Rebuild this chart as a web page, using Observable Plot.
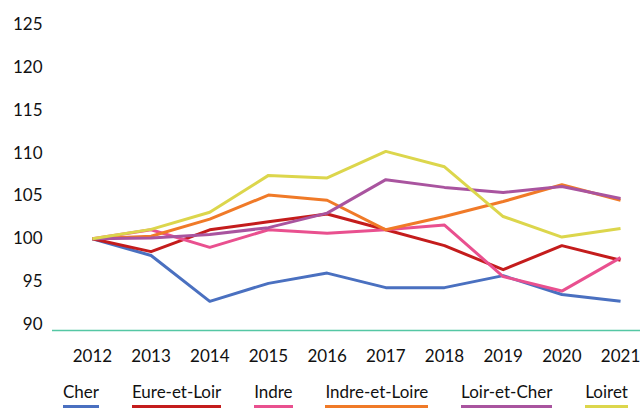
<!DOCTYPE html>
<html>
<head>
<meta charset="utf-8">
<script src="https://cdn.jsdelivr.net/npm/d3@7"></script>
<script src="https://cdn.jsdelivr.net/npm/@observablehq/plot@0.6"></script>
<style>
  html, body { margin: 0; padding: 0; background: #fff; }
  body { width: 640px; height: 408px; overflow: hidden; font-family: Lato, "Open Sans", sans-serif; }
  #legend { display: flex; justify-content: space-between; padding: 0 12px 0 63px; height: 38px; box-sizing: border-box; }
  .item { font-size: 17px; color: #111; line-height: 20px; padding-top: 12px; padding-bottom: 3px; border-bottom: 3px solid; height: 20px; }
</style>
</head>
<body>
<div id="chart"></div>
<div id="legend"></div>
<script>
const years = [2012, 2013, 2014, 2015, 2016, 2017, 2018, 2019, 2020, 2021];
const seriesNames = ["Cher", "Eure-et-Loir", "Indre", "Indre-et-Loire", "Loir-et-Cher", "Loiret"];
const cher         = [100, 98.05, 92.7, 94.8, 96.0, 94.3, 94.3, 95.7, 93.5, 92.7];
const eureEtLoir   = [100, 98.5, 101.05, 102.0, 102.9, 101.05, 99.2, 96.4, 99.2, 97.5];
const indre        = [100, 101.05, 99.0, 101.05, 100.65, 101.05, 101.6, 95.6, 93.9, 97.8];
const indreEtLoire = [100, 100.3, 102.3, 105.1, 104.5, 101.05, 102.6, 104.35, 106.3, 104.5];
const loirEtCher   = [100, 100.1, 100.5, 101.3, 103.0, 106.9, 106.0, 105.4, 106.1, 104.7];
const loiret       = [100, 101.1, 103.1, 107.4, 107.1, 110.2, 108.4, 102.6, 100.2, 101.2];
const yTicks = [90, 95, 100, 105, 110, 115, 120, 125];
const colors = ["#4a70c0", "#c41c1c", "#e9508f", "#f07a28", "#a9549f", "#dcd64c"];

const allSeries = [cher, eureEtLoir, indre, indreEtLoire, loirEtCher, loiret];
const data = [];
seriesNames.forEach((name, i) => {
  years.forEach((yr, j) => data.push({series: name, year: yr, value: allSeries[i][j]}));
});

const chart = Plot.plot({
  width: 640,
  height: 370,
  marginLeft: 52,
  marginRight: 0,
  marginTop: 10,
  marginBottom: 40,
  style: {fontFamily: "Lato, 'Open Sans', sans-serif", fontSize: "17px", color: "#111", background: "#fff"},
  x: {domain: [2011.32, 2021.34], ticks: years, tickFormat: "d", tickSize: 0, tickPadding: 19, label: null},
  y: {domain: [89.3, 126.64], ticks: yTicks, tickSize: 0, tickPadding: 10, label: null},
  color: {domain: seriesNames, range: colors},
  marks: [
    Plot.ruleY([89.3], {stroke: "#55c7a4", strokeWidth: 1.5}),
    Plot.line(data, {x: "year", y: "value", z: "series", stroke: "series", strokeWidth: 3, strokeLinejoin: "round", strokeLinecap: "butt"})
  ]
});
document.getElementById("chart").appendChild(chart);

const legend = document.getElementById("legend");
seriesNames.forEach((name, i) => {
  const d = document.createElement("div");
  d.className = "item";
  d.textContent = name;
  d.style.borderBottomColor = colors[i];
  legend.appendChild(d);
});
</script>
</body>
</html>
